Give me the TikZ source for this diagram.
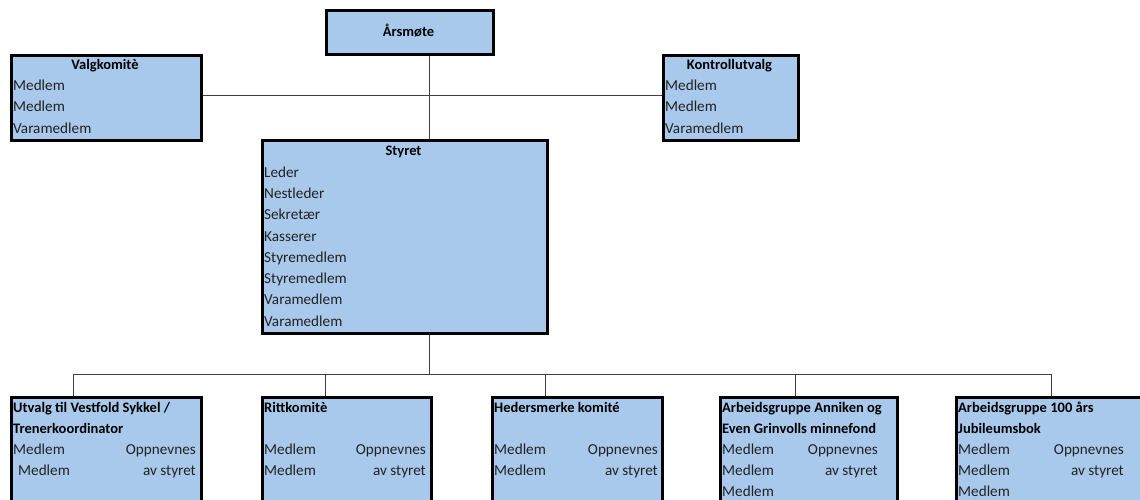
\documentclass[tikz,border=0pt]{standalone}
\usepackage{fontspec}
\setmainfont{Carlito}
\definecolor{boxfill}{HTML}{A8C9EB}
\definecolor{conn}{HTML}{404040}
\definecolor{txt}{HTML}{222222}
\tikzset{
  box/.style={draw=black, line width=2pt, fill=boxfill, anchor=north west, inner sep=0pt},
  conline/.style={draw=conn, line width=1pt},
  ttl/.style={font=\fontsize{14.5}{16}\selectfont\bfseries, text=black, inner sep=0pt},
  lbl/.style={font=\fontsize{15.2}{17}\selectfont, text=txt, inner sep=0pt, anchor=base west},
  rlbl/.style={font=\fontsize{15.2}{17}\selectfont, text=txt, inner sep=0pt, anchor=base east},
}
\begin{document}
\begin{tikzpicture}[x=1pt,y=-1pt]
\useasboundingbox (0,0) rectangle (1140,500);
\clip (0,0) rectangle (1140,500);
\fill[white] (0,0) rectangle (1140,500);
% boxes
\node[box, minimum width=166, minimum height=43] (ars) at (325.5,10.5) {};
\node[box, minimum width=189, minimum height=84] (valg) at (10.5,55.5) {};
\node[box, minimum width=134, minimum height=84] (kontroll) at (662.5,55.5) {};
\node[box, minimum width=284, minimum height=191] (styret) at (261.5,140.5) {};
\node[box, minimum width=189, minimum height=120] (b1) at (10.5,396.5) {};
\node[box, minimum width=168, minimum height=120] (b2) at (261.5,396.5) {};
\node[box, minimum width=169, minimum height=120] (b3) at (491.5,396.5) {};
\node[box, minimum width=176, minimum height=120] (b4) at (719.5,396.5) {};
\node[box, minimum width=200, minimum height=120] (b5) at (955.5,396.5) {};
% connectors
\coordinate (jtop) at (429,96);
\coordinate (jbot) at (429,374);
\coordinate (c1) at (73,374);
\coordinate (c2) at (325,374);
\coordinate (c3) at (545,374);
\coordinate (c4) at (795,374);
\coordinate (c5) at (1051,374);
\draw[conline] (ars.south -| jtop) -- (styret.north -| jtop);
\draw[conline] (valg.east |- jtop) -- (kontroll.west |- jtop);
\draw[conline] (styret.south -| jbot) -- (jbot);
\draw[conline] (c1) -- (c5);
\draw[conline] (c1) -- (b1.north -| c1);
\draw[conline] (c2) -- (b2.north -| c2);
\draw[conline] (c3) -- (b3.north -| c3);
\draw[conline] (c4) -- (b4.north -| c4);
\draw[conline] (c5) -- (b5.north -| c5);
% redraw box borders on top
\foreach \n in {ars,valg,kontroll,styret,b1,b2,b3,b4,b5} {\draw[black, line width=2pt] (\n.north west) rectangle (\n.south east);}
% texts
\node[ttl, anchor=base] (tars) at (408.5,37) {Årsmøte};
\node[ttl, anchor=base] (tvalg) at (105,70) {Valgkomitè};
\node[lbl] (v1) at (13,91) {Medlem};
\node[lbl] (v2) at (13,112) {Medlem};
\node[lbl] (v3) at (13,134) {Varamedlem};
\node[ttl, anchor=base] (tkon) at (729.5,70) {Kontrollutvalg};
\node[lbl] (k1) at (665,91) {Medlem};
\node[lbl] (k2) at (665,112) {Medlem};
\node[lbl] (k3) at (665,134) {Varamedlem};
\node[ttl, anchor=base] (tsty) at (403.5,156) {Styret};
\node[lbl] (s1) at (264,177) {Leder};
\node[lbl] (s2) at (264,198) {Nestleder};
\node[lbl] (s3) at (264,219) {Sekretær};
\node[lbl] (s4) at (264,241) {Kasserer};
\node[lbl] (s5) at (264,262) {Styremedlem};
\node[lbl] (s6) at (264,283) {Styremedlem};
\node[lbl] (s7) at (264,304) {Varamedlem};
\node[lbl] (s8) at (264,326) {Varamedlem};
% bottom 1
\node[ttl, anchor=base west] (t1a) at (13,412) {Utvalg til Vestfold Sykkel /};
\node[ttl, anchor=base west] (t1b) at (13,433) {Trenerkoordinator};
\node[lbl] (m1a) at (13,454) {Medlem};
\node[lbl] (m1b) at (18,475) {Medlem};
\node[rlbl] (o1a) at (196,454) {Oppnevnes};
\node[rlbl] (o1b) at (196,475) {av styret};
% bottom 2
\node[ttl, anchor=base west] (t2) at (264,412) {Rittkomitè};
\node[lbl] (m2a) at (264,454) {Medlem};
\node[lbl] (m2b) at (264,475) {Medlem};
\node[rlbl] (o2a) at (426,454) {Oppnevnes};
\node[rlbl] (o2b) at (426,475) {av styret};
% bottom 3
\node[ttl, anchor=base west] (t3) at (494,412) {Hedersmerke komité};
\node[lbl] (m3a) at (494,454) {Medlem};
\node[lbl] (m3b) at (494,475) {Medlem};
\node[rlbl] (o3a) at (658,454) {Oppnevnes};
\node[rlbl] (o3b) at (658,475) {av styret};
% bottom 4
\node[ttl, anchor=base west] (t4a) at (722,412) {Arbeidsgruppe Anniken og};
\node[ttl, anchor=base west] (t4b) at (722,433) {Even Grinvolls minnefond};
\node[lbl] (m4a) at (722,454) {Medlem};
\node[lbl] (m4b) at (722,475) {Medlem};
\node[lbl] (m4c) at (722,496) {Medlem};
\node[rlbl] (o4a) at (878,454) {Oppnevnes};
\node[rlbl] (o4b) at (878,475) {av styret};
% bottom 5
\node[ttl, anchor=base west] (t5a) at (958,412) {Arbeidsgruppe 100 års};
\node[ttl, anchor=base west] (t5b) at (958,433) {Jubileumsbok};
\node[lbl] (m5a) at (958,454) {Medlem};
\node[lbl] (m5b) at (958,475) {Medlem};
\node[lbl] (m5c) at (958,496) {Medlem};
\node[rlbl] (o5a) at (1124,454) {Oppnevnes};
\node[rlbl] (o5b) at (1124,475) {av styret};
\end{tikzpicture}
\end{document}
